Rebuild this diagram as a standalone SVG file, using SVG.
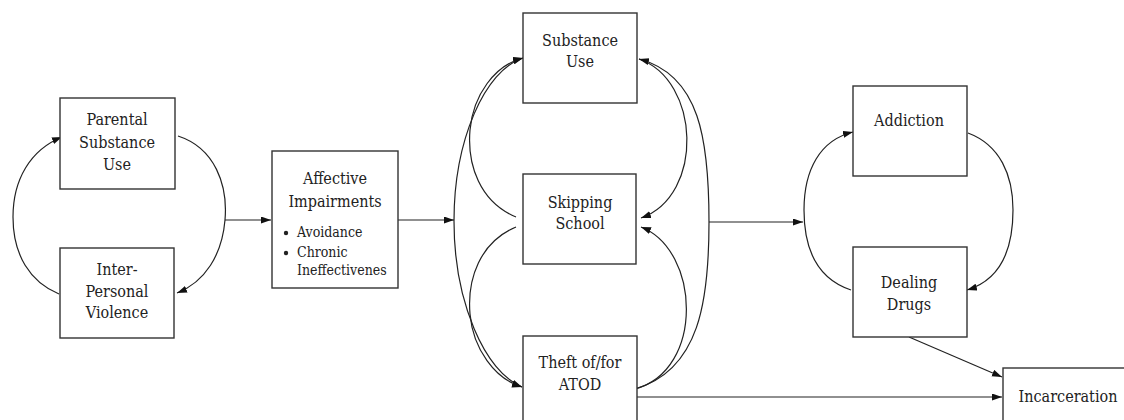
<svg xmlns="http://www.w3.org/2000/svg" width="1124" height="420" viewBox="0 0 1124 420">
<style>
.box{fill:#fff;stroke:#333;stroke-width:1.4}
text{font-family:'DejaVu Serif Condensed','DejaVu Serif','Liberation Serif',serif;font-stretch:condensed;fill:#222}
.t{font-size:16px;text-anchor:middle}
.s{font-size:14px}
.c{fill:none;stroke:#222;stroke-width:1.2}
</style>
<defs>
<marker id="ah" markerUnits="userSpaceOnUse" markerWidth="11" markerHeight="8" refX="10" refY="3.5" orient="auto">
<path d="M0,0 L10,3.5 L0,7 z" fill="#111"/>
</marker>
</defs>
<rect width="1124" height="420" fill="#fff"/>
<g id="connectors">
<path class="c" d="M178,136 C215,148 228,185 225,220 C222,255 205,282 177,293" marker-end="url(#ah)"/>
<path class="c" d="M59,294 C30,282 13,255 13,217 C13,180 30,150 62,137" marker-end="url(#ah)"/>
<path class="c" d="M225,220 L271,220" marker-end="url(#ah)"/>
<path class="c" d="M398,220 L454,220" marker-end="url(#ah)"/>
<path class="c" d="M454,221 C454,140 485,70 523,58" marker-end="url(#ah)"/>
<path class="c" d="M454,221 C454,302 485,372 522,387" marker-end="url(#ah)"/>
<path class="c" d="M516,217 C480,202 467,165 470,130 C473,95 495,65 523,58" marker-end="url(#ah)"/>
<path class="c" d="M516,227 C480,242 467,279 470,314 C473,349 495,379 522,387" marker-end="url(#ah)"/>
<path class="c" d="M639,59 C700,80 705,195 641,218" marker-end="url(#ah)"/>
<path class="c" d="M635,389 C705,370 700,250 641,227" marker-end="url(#ah)"/>
<path class="c" d="M635,389 C700,370 709,300 709,222 C709,140 700,75 639,59" marker-end="url(#ah)"/>
<path class="c" d="M709,222 L803,222" marker-end="url(#ah)"/>
<path class="c" d="M851,290 C815,278 804,245 804,210 C804,170 820,140 853,132" marker-end="url(#ah)"/>
<path class="c" d="M968,133 C1000,145 1013,175 1013,210 C1013,250 1000,280 967,290" marker-end="url(#ah)"/>
<path class="c" d="M909,337 L1002,377" marker-end="url(#ah)"/>
<path class="c" d="M637,397 L1002,397" marker-end="url(#ah)"/>
</g>
<g id="parental">
<rect class="box" x="60" y="98" width="115" height="91"/>
<text class="t" x="117" y="125">Parental</text>
<text class="t" x="117" y="148">Substance</text>
<text class="t" x="117" y="170">Use</text>
</g>
<g id="interpersonal">
<rect class="box" x="60" y="248" width="114" height="90"/>
<text class="t" x="117" y="275">Inter-</text>
<text class="t" x="117" y="297">Personal</text>
<text class="t" x="117" y="318">Violence</text>
</g>
<g id="affective">
<rect class="box" x="272" y="151" width="126" height="137"/>
<text class="t" x="335" y="184">Affective</text>
<text class="t" x="335" y="207">Impairments</text>
<circle cx="286" cy="233" r="2.2" fill="#222"/>
<text class="s" x="297" y="237">Avoidance</text>
<circle cx="286" cy="253" r="2.2" fill="#222"/>
<text class="s" x="297" y="257">Chronic</text>
<text class="s" x="297" y="275">Ineffectivenes</text>
</g>
<g id="substance">
<rect class="box" x="523" y="13" width="114" height="90"/>
<text class="t" x="580" y="46">Substance</text>
<text class="t" x="580" y="67">Use</text>
</g>
<g id="skipping">
<rect class="box" x="523" y="174" width="113" height="90"/>
<text class="t" x="580" y="208">Skipping</text>
<text class="t" x="580" y="229">School</text>
</g>
<g id="theft">
<rect class="box" x="523" y="336" width="114" height="100"/>
<text class="t" x="580" y="368">Theft of/for</text>
<text class="t" x="580" y="390">ATOD</text>
</g>
<g id="addiction">
<rect class="box" x="853" y="86" width="114" height="90"/>
<text class="t" x="909" y="126">Addiction</text>
</g>
<g id="dealing">
<rect class="box" x="853" y="247" width="114" height="90"/>
<text class="t" x="909" y="288">Dealing</text>
<text class="t" x="909" y="310">Drugs</text>
</g>
<g id="incarceration">
<rect class="box" x="1003" y="368" width="130" height="70"/>
<text class="t" x="1068" y="402">Incarceration</text>
</g>
</svg>
